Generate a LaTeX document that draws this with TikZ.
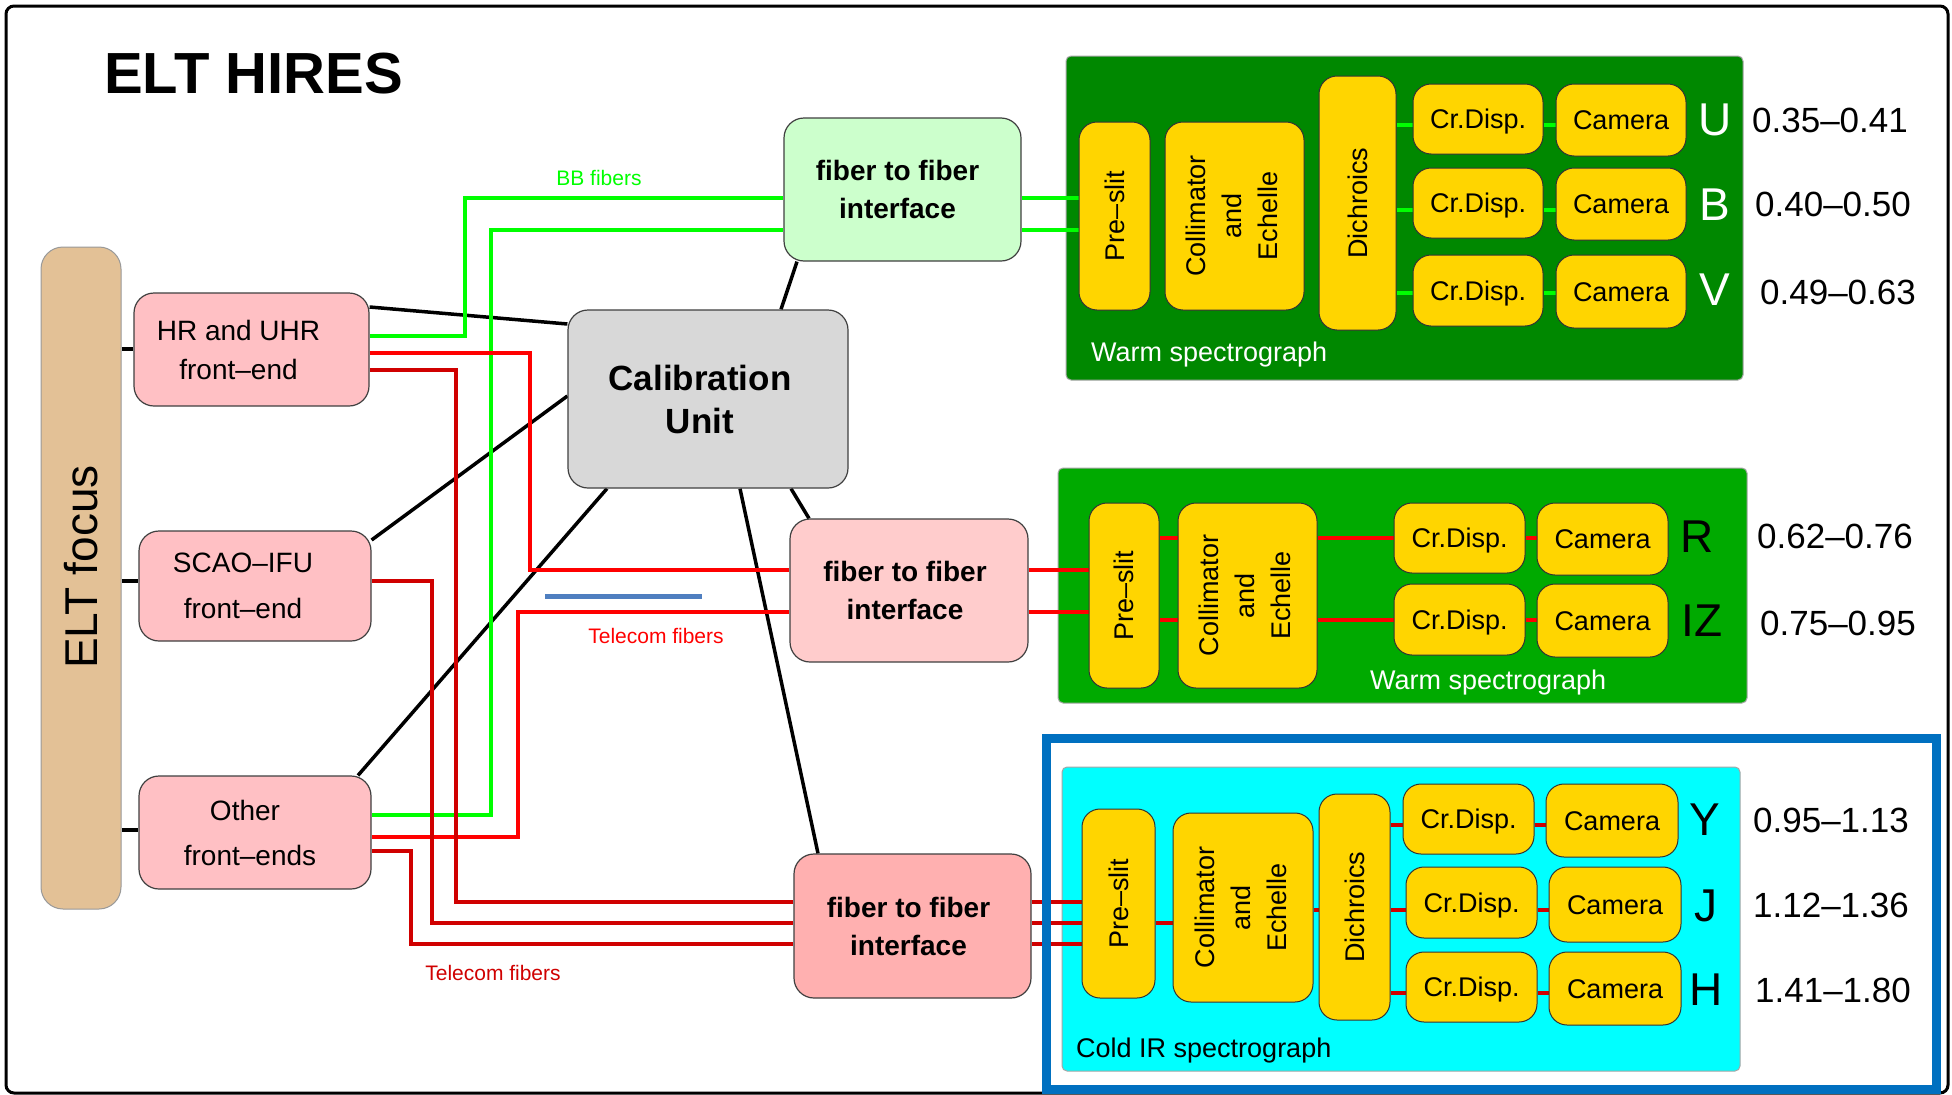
\documentclass[tikz,border=0pt]{standalone}
\usepackage{fontspec}
\setmainfont{Liberation Sans}
\usetikzlibrary{backgrounds}
\pgfdeclarelayer{lines}
\pgfsetlayers{background,lines,main}
\definecolor{frpink}{HTML}{FFC0C4}
\definecolor{midpink}{HTML}{FFCCCC}
\definecolor{botpink}{HTML}{FFB0B0}
\definecolor{lgreen}{HTML}{CCFFCC}
\definecolor{dgreen}{HTML}{008800}
\definecolor{mgreen}{HTML}{00AA00}
\definecolor{ygold}{HTML}{FFD500}
\definecolor{bartan}{HTML}{E3C196}
\definecolor{calgrey}{HTML}{D8D8D8}
\definecolor{bluefr}{HTML}{0070C0}
\definecolor{blueln}{HTML}{4F7FC0}
\definecolor{fgreen}{HTML}{00FF00}
\definecolor{fred}{HTML}{FF0000}
\definecolor{dred}{HTML}{D00000}
\definecolor{cyanf}{HTML}{00FFFF}
\newcommand{\fsz}[2]{\fontsize{#1}{#2}\selectfont}
\newcommand{\bx}[7]{\node[#6, minimum width={#4-#2}, minimum height={#5-#3}] (#1) at ({(#2+#4)/2},{(#3+#5)/2}) {#7};}
\newcommand{\vtxt}[1]{\rotatebox{90}{#1}}
\newcommand{\lsh}[2]{#2\hspace*{#1pt}}
\tikzset{
  box/.style={draw=black!75, line width=1.2pt, rounded corners=20pt, inner sep=2pt, align=center, font=\fsz{28}{39}},
  front/.style={box, fill=frpink},
  fib/.style={box, font=\bfseries\fsz{28}{38}},
  cont/.style={draw=black!35, line width=1pt, rounded corners=5pt, inner sep=0pt},
  ybox/.style={draw=black!80, line width=1pt, fill=ygold, rounded corners=18pt, inner sep=1pt, font=\fsz{27}{36}, align=center},
  hbox/.style={ybox, text height=19.5pt, text depth=0pt},
  blk/.style={line width=3.5pt, draw=black},
  grn/.style={line width=4pt, draw=fgreen},
  rd/.style={line width=4pt, draw=fred},
  drd/.style={line width=4pt, draw=dred},
  band/.style={font=\fsz{46}{46}, inner sep=0pt},
  wl/.style={font=\fsz{35}{35}, inner sep=0pt},
  lbl/.style={font=\fsz{27}{27}, anchor=base west, inner sep=0pt},
  small/.style={font=\fsz{21}{21}, inner sep=0pt}
}
\begin{document}
\begin{tikzpicture}[x=1pt,y=-1pt]
\useasboundingbox (0,0) rectangle (1952,1095);
\begin{pgfonlayer}{background}
\bx{frame}{6}{6}{1948}{1093}{draw=black, line width=3pt, rounded corners=8pt, fill=white, inner sep=0pt}{}
\bx{ws1}{1066}{56}{1743}{380}{cont, fill=dgreen}{}
\bx{ws2}{1058}{468}{1747}{703}{cont, fill=mgreen}{}
\bx{cyanbox}{1062}{767}{1740}{1071}{cont, fill=cyanf}{}
\end{pgfonlayer}
\bx{cold}{1046}{738}{1936}{1089}{draw=bluefr, line width=9pt, inner sep=0pt}{}

\node[font=\bfseries\fsz{58}{58}, anchor=base west, inner sep=0pt] (title) at (104,93) {ELT HIRES};

% left side
\bx{bar}{41}{247}{121}{909}{box, fill=bartan, draw=black!40, line width=1pt, rounded corners=22pt, font=\fsz{46}{46}}{\vtxt{\hspace*{22pt}ELT focus}}
\bx{hr}{134}{293}{369}{406}{front}{\lsh{26}{HR and UHR}\\\lsh{26}{front–end}}
\bx{scao}{139}{531}{371}{641}{front, font=\fsz{28}{46}}{\lsh{24}{SCAO–IFU}\\\lsh{24}{front–end}}
\bx{oth}{139}{776}{371}{889}{front, font=\fsz{28}{45}}{\lsh{20}{Other}\\\lsh{10}{front–ends}}
\bx{cal}{568}{310}{848}{488}{box, fill=calgrey, font=\bfseries\fsz{35}{43}}{\lsh{16}{Calibration}\\\lsh{16}{Unit}}
\bx{tfib}{784}{118}{1021}{261}{fib, fill=lgreen}{\lsh{10}{fiber to fiber}\\\lsh{10}{interface}}
\bx{mfib}{790}{519}{1028}{662}{fib, fill=midpink}{\lsh{8}{fiber to fiber}\\\lsh{8}{interface}}
\bx{bfib}{794}{854}{1031}{998}{fib, fill=botpink}{\lsh{8}{fiber to fiber}\\\lsh{8}{interface}}

% top warm spectrograph
\bx{pre1}{1079}{122}{1150}{310}{ybox}{\vtxt{Pre–slit}}
\bx{col1}{1165}{122}{1304}{310}{ybox}{\vtxt{\begin{tabular}{@{}c@{}}Collimator\\and\\Echelle\end{tabular}}}
\bx{dic1}{1319}{76}{1396}{330}{ybox}{\vtxt{Dichroics}}
\bx{cd1u}{1413}{84}{1543}{154}{hbox}{Cr.Disp.}
\bx{cam1u}{1556}{84}{1686}{156}{hbox}{Camera}
\bx{cd1b}{1413}{168}{1543}{238}{hbox}{Cr.Disp.}
\bx{cam1b}{1556}{168}{1686}{240}{hbox}{Camera}
\bx{cd1v}{1413}{255}{1543}{326}{hbox}{Cr.Disp.}
\bx{cam1v}{1556}{255}{1686}{328}{hbox}{Camera}
\node[lbl, text=white] (ws1l) at (1091,361) {Warm spectrograph};

% middle warm spectrograph
\bx{pre2}{1089}{503}{1159}{688}{ybox}{\vtxt{Pre–slit}}
\bx{col2}{1178}{503}{1317}{688}{ybox}{\vtxt{\begin{tabular}{@{}c@{}}Collimator\\and\\Echelle\end{tabular}}}
\bx{cd2r}{1394}{503}{1525}{573}{hbox}{Cr.Disp.}
\bx{cam2r}{1537}{503}{1668}{575}{hbox}{Camera}
\bx{cd2i}{1394}{584}{1525}{655}{hbox}{Cr.Disp.}
\bx{cam2i}{1537}{584}{1668}{657}{hbox}{Camera}
\node[lbl, text=white] (ws2l) at (1370,689) {Warm spectrograph};

% cold IR spectrograph
\bx{pre3}{1082}{809}{1155}{998}{ybox}{\vtxt{Pre–slit}}
\bx{col3}{1173}{813}{1313}{1002}{ybox}{\vtxt{\begin{tabular}{@{}c@{}}Collimator\\and\\Echelle\end{tabular}}}
\bx{dic3}{1319}{794}{1390}{1020}{ybox}{\vtxt{Dichroics}}
\bx{cd3y}{1403}{784}{1534}{854}{hbox}{Cr.Disp.}
\bx{cam3y}{1546}{784}{1678}{857}{hbox}{Camera}
\bx{cd3j}{1406}{867}{1537}{938}{hbox}{Cr.Disp.}
\bx{cam3j}{1549}{867}{1681}{942}{hbox}{Camera}
\bx{cd3h}{1406}{952}{1537}{1022}{hbox}{Cr.Disp.}
\bx{cam3h}{1549}{952}{1681}{1025}{hbox}{Camera}
\node[lbl] (coldl) at (1076,1057) {Cold IR spectrograph};

% bands
\node[band, text=white] (bU) at (1715,120) {U};
\node[band, text=white] (bB) at (1715,205) {B};
\node[band, text=white] (bV) at (1715,290) {V};
\node[band] (bR) at (1697,537) {R};
\node[band] (bIZ) at (1702,621) {IZ};
\node[band] (bY) at (1705,820) {Y};
\node[band] (bJ) at (1706,906) {J};
\node[band] (bH) at (1706,990) {H};

% wavelengths
\node[wl] (w1) at (1830,120) {0.35–0.41};
\node[wl] (w2) at (1833,204) {0.40–0.50};
\node[wl] (w3) at (1838,292) {0.49–0.63};
\node[wl] (w4) at (1835,536) {0.62–0.76};
\node[wl] (w5) at (1838,623) {0.75–0.95};
\node[wl] (w6) at (1831,820) {0.95–1.13};
\node[wl] (w7) at (1831,905) {1.12–1.36};
\node[wl] (w8) at (1833,990) {1.41–1.80};

% fiber labels
\node[small, text=fgreen] (bbl) at (599,178) {BB fibers};
\node[small, text=fred] (tel1) at (656,636) {Telecom fibers};
\node[small, text=dred] (tel2) at (493,973) {Telecom fibers};
\coordinate (bl1) at (545,596);
\coordinate (bl2) at (702,596);

\begin{pgfonlayer}{lines}
\draw[blueln, line width=5pt] (bl1) -- (bl2);
% black links
\draw[blk] (bar.east |- 0,349) -- (hr.west |- 0,349);
\draw[blk] (bar.east |- 0,581) -- (scao.west |- 0,581);
\draw[blk] (bar.east |- 0,830) -- (oth.west |- 0,830);
\draw[blk] (hr.east |- 0,307) -- (cal.west |- 0,324);
\draw[blk] (scao.east |- 0,540) -- (cal.west |- 0,396);
\draw[blk] (oth.north -| 358,0) -- (cal.south -| 607,0);
\draw[blk] (cal.north -| 781,0) -- (tfib.south -| 797,0);
\draw[blk] (cal.south -| 740,0) -- (bfib.north -| 818,0);
\draw[blk] (cal.south -| 791,0) -- (mfib.north -| 809,0);
% green BB fibers
\draw[grn] (hr.east |- 0,336) -| (465,198) -- (tfib.west |- 0,198);
\draw[grn] (oth.east |- 0,815) -| (491,230) -- (tfib.west |- 0,230);
\draw[grn] (tfib.east |- 0,198) -- (pre1.west |- 0,198);
\draw[grn] (tfib.east |- 0,230) -- (pre1.west |- 0,230);
\draw[grn] (dic1.east |- 0,125) -- (cd1u.west |- 0,125);
\draw[grn] (cd1u.east |- 0,125) -- (cam1u.west |- 0,125);
\draw[grn] (dic1.east |- 0,210) -- (cd1b.west |- 0,210);
\draw[grn] (cd1b.east |- 0,210) -- (cam1b.west |- 0,210);
\draw[grn] (dic1.east |- 0,293) -- (cd1v.west |- 0,293);
\draw[grn] (cd1v.east |- 0,293) -- (cam1v.west |- 0,293);
% red telecom fibers to middle
\draw[rd] (hr.east |- 0,353) -| (530,570) -- (mfib.west |- 0,570);
\draw[rd] (oth.east |- 0,837) -| (518,612) -- (mfib.west |- 0,612);
\draw[rd] (mfib.east |- 0,570) -- (pre2.west |- 0,570);
\draw[rd] (mfib.east |- 0,612) -- (pre2.west |- 0,612);
\draw[rd] (pre2.east |- 0,538) -- (col2.west |- 0,538);
\draw[rd] (pre2.east |- 0,620) -- (col2.west |- 0,620);
\draw[rd] (col2.east |- 0,538) -- (cd2r.west |- 0,538);
\draw[rd] (col2.east |- 0,620) -- (cd2i.west |- 0,620);
\draw[rd] (cd2r.east |- 0,538) -- (cam2r.west |- 0,538);
\draw[rd] (cd2i.east |- 0,620) -- (cam2i.west |- 0,620);
% dark red telecom fibers to bottom
\draw[drd] (hr.east |- 0,370) -| (456,902) -- (bfib.west |- 0,902);
\draw[drd] (scao.east |- 0,581) -| (432,923) -- (bfib.west |- 0,923);
\draw[drd] (oth.east |- 0,851) -| (411,944) -- (bfib.west |- 0,944);
\draw[drd] (bfib.east |- 0,902) -- (pre3.west |- 0,902);
\draw[drd] (bfib.east |- 0,923) -- (pre3.west |- 0,923);
\draw[drd] (bfib.east |- 0,944) -- (pre3.west |- 0,944);
\draw[drd] (pre3.east |- 0,923) -- (col3.west |- 0,923);
\draw[drd] (col3.east |- 0,910) -- (dic3.west |- 0,910);
\draw[drd] (dic3.east |- 0,825) -- (cd3y.west |- 0,825);
\draw[drd] (cd3y.east |- 0,825) -- (cam3y.west |- 0,825);
\draw[drd] (dic3.east |- 0,910) -- (cd3j.west |- 0,910);
\draw[drd] (cd3j.east |- 0,910) -- (cam3j.west |- 0,910);
\draw[drd] (dic3.east |- 0,993) -- (cd3h.west |- 0,993);
\draw[drd] (cd3h.east |- 0,993) -- (cam3h.west |- 0,993);
\end{pgfonlayer}
\end{tikzpicture}
\end{document}
